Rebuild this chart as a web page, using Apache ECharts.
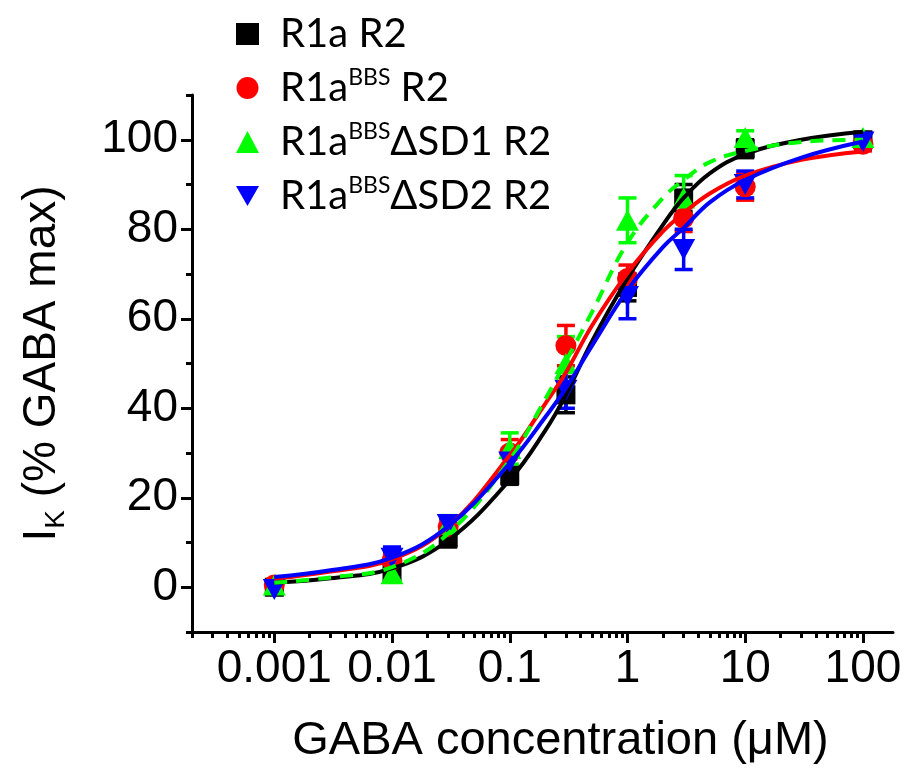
<!DOCTYPE html>
<html>
<head>
<meta charset="utf-8">
<script src="https://cdn.jsdelivr.net/npm/echarts@6/dist/echarts.min.js"></script>
<style>
html,body{margin:0;padding:0;background:#fff;}
#chart{width:911px;height:773px;}
</style>
</head>
<body>
<div id="chart"></div>
<script>
// ---------- data ----------
const seriesNames = ['R1a R2', 'R1aBBS R2', 'R1aBBSΔSD1 R2', 'R1aBBSΔSD2 R2'];
const concentrations = [0.001, 0.01, 0.03, 0.1, 0.3, 1, 3, 10, 100];

const r1aMean   = [0, 3.5, 11, 25, 43, 67, 87, 98, 100];
const r1aErr    = [1, 1.5, 2, 2, 4, 3, 3, 2, 1.5];
const bbsMean   = [0.5, 6, 13.5, 30, 54, 69, 82.5, 89.5, 99];
const bbsErr    = [1, 1.5, 1.5, 3, 4.5, 3, 3, 3, 1.5];
const sd1Mean   = [0.5, 3, 14, 31, 50, 82, 87, 100.5, 100.5];
const sd1Err    = [1, 1.5, 2, 3.5, 6, 5, 5, 1.5, 1];
const sd2Mean   = [-0.5, 6.5, 14, 28, 44, 65, 75.5, 90, 99.5];
const sd2Err    = [1, 2.5, 1.5, 3, 4, 5, 4.5, 3, 1.5];

// fitted curves
const curveX     = [0.001, 0.003, 0.01, 0.03, 0.1, 0.2, 0.3, 0.5, 1, 2, 3, 5, 10, 30, 100];
const r1aCurve   = [1.0, 2.0, 4.2, 10.5, 24, 35, 43, 55, 69, 81, 87, 92.5, 96.8, 100, 101.8];
const bbsCurve   = [1.9, 3.5, 6.2, 13.5, 29.5, 41, 48, 58.5, 70.2, 79.5, 83.6, 88, 92, 95.5, 97.4];
const sd1Curve   = [1.0, 2.2, 4.5, 12, 28.5, 42, 50.5, 61.5, 77, 87, 91, 95, 97.5, 99.5, 100];
const sd2Curve   = [2.3, 3.8, 6.6, 13.6, 27.7, 38, 44.5, 54, 66.4, 76, 80.3, 86, 91, 96, 99.6];

const xTickValues = [0.001, 0.01, 0.1, 1, 10, 100];
const xTickLabels = ['0.001', '0.01', '0.1', '1', '10', '100'];
const yTickValues = [0, 20, 40, 60, 80, 100];
const yMinorTicks = [-10, 10, 30, 50, 70, 90, 110];

// ---------- build ----------
const colors = ['#000000', '#ff0000', '#00ff00', '#0000ff'];
const symbols = ['rect', 'circle', 'triangle', 'path://M0,0L2,0L1,1.732Z'];
const symbolSizes = [19, 21, [23, 21], [23, 21]];
const means = [r1aMean, bbsMean, sd1Mean, sd2Mean];
const errs = [r1aErr, bbsErr, sd1Err, sd2Err];
const curves = [r1aCurve, bbsCurve, sd1Curve, sd2Curve];

const xMinor = [];
for (let d = -4; d <= 2; d++) {
  for (let k = 2; k <= 9; k++) {
    const v = k * Math.pow(10, d);
    if (v >= 0.0002 && v <= 180) xMinor.push(Number(v.toPrecision(3)));
  }
}

const series = [];
for (let i = 0; i < 4; i++) {
  const errData = concentrations.map((c, j) => [c, means[i][j] - errs[i][j], means[i][j] + errs[i][j]]);
  series.push({
    type: 'custom',
    name: seriesNames[i] + '_err',
    xAxisIndex: 0, yAxisIndex: 0,
    z: 3,
    silent: true,
    data: errData,
    encode: { x: 0, y: [1, 2] },
    renderItem: (function (col) {
      return function (params, api) {
        const x = api.value(0);
        const lo = api.coord([x, api.value(1)]);
        const hi = api.coord([x, api.value(2)]);
        const w = 9;
        const st = { stroke: col, lineWidth: 3.5 };
        return {
          type: 'group',
          children: [
            { type: 'line', shape: { x1: lo[0], y1: lo[1], x2: hi[0], y2: hi[1] }, style: st },
            { type: 'line', shape: { x1: lo[0] - w, y1: lo[1], x2: lo[0] + w, y2: lo[1] }, style: st },
            { type: 'line', shape: { x1: hi[0] - w, y1: hi[1], x2: hi[0] + w, y2: hi[1] }, style: st }
          ]
        };
      };
    })(colors[i])
  });
  series.push({
    type: 'scatter',
    name: seriesNames[i],
    xAxisIndex: 0, yAxisIndex: 0,
    z: 4,
    symbol: symbols[i],
    symbolSize: symbolSizes[i],
    itemStyle: { color: colors[i], opacity: 1 },
    data: concentrations.map((c, j) => [c, means[i][j]])
  });
}
for (let i = 0; i < 4; i++) {
  series.push({
    type: 'line',
    name: seriesNames[i] + '_fit',
    xAxisIndex: 0, yAxisIndex: 0,
    z: 5,
    smooth: 0.4,
    showSymbol: false,
    silent: true,
    lineStyle: { color: colors[i], width: 4, type: i === 2 ? [13, 9] : 'solid' },
    data: curveX.map((c, j) => [c, curves[i][j]])
  });
}

const axisFont = 'Liberation Sans, Arial, sans-serif';
const chart = echarts.init(document.getElementById('chart'), null, { renderer: 'canvas' });
chart.setOption({
  animation: false,
  backgroundColor: '#ffffff',
  grid: { left: 192, right: 18, top: 95, bottom: 141, containLabel: false, outerBoundsMode: 'none' },
  legend: {
    data: seriesNames,
    orient: 'vertical',
    left: 231, top: 7,
    itemWidth: 23, itemHeight: 22,
    itemGap: 10,
    textStyle: {
      fontFamily: 'Lato, sans-serif', fontSize: 40, color: '#000', lineHeight: 44,
      padding: [0, 0, 0, 16],
      rich: {
        s: { fontFamily: 'Lato, sans-serif', fontSize: 23, color: '#000', verticalAlign: 'top', lineHeight: 30 }
      }
    },
    formatter: function (name) { return name.replace('BBS', '{s|BBS}'); }
  },
  xAxis: [
    {
      type: 'log', logBase: 10, min: 0.0002, max: 180,
      position: 'bottom',
      axisLine: { show: true, onZero: false, lineStyle: { color: '#000', width: 3 } },
      axisTick: { show: true, customValues: xTickValues, length: 11, lineStyle: { color: '#000', width: 3 } },
      axisLabel: {
        show: true, customValues: xTickValues, margin: 14,
        fontFamily: axisFont, fontSize: 46, color: '#000',
        formatter: function (v) {
          let best = 0;
          for (let k = 0; k < xTickValues.length; k++) {
            if (Math.abs(Math.log10(v) - Math.log10(xTickValues[k])) < Math.abs(Math.log10(v) - Math.log10(xTickValues[best]))) best = k;
          }
          return xTickLabels[best];
        }
      },
      splitLine: { show: false },
      minorTick: { show: false },
      name: 'GABA concentration (μM)',
      nameLocation: 'middle', nameGap: 86,
      nameTextStyle: { fontFamily: axisFont, fontSize: 47, color: '#000', padding: [0, 0, 0, 36] }
    },
    {
      type: 'log', logBase: 10, min: 0.0002, max: 180,
      position: 'bottom',
      axisLine: { show: false, onZero: false },
      axisTick: { show: true, customValues: xMinor, length: 6, lineStyle: { color: '#000', width: 3 } },
      axisLabel: { show: false },
      splitLine: { show: false }
    }
  ],
  yAxis: [
    {
      type: 'value', min: -10, max: 110, position: 'left',
      axisLine: { show: true, onZero: false, lineStyle: { color: '#000', width: 3 } },
      axisTick: { show: true, customValues: yTickValues, length: 11, lineStyle: { color: '#000', width: 3 } },
      axisLabel: { show: true, customValues: yTickValues, margin: 14, fontFamily: axisFont, fontSize: 46, color: '#000' },
      splitLine: { show: false },
      name: '{i|I}{k|K}{i| (% GABA max)}',
      nameLocation: 'middle', nameGap: 122, nameRotate: 90,
      nameTextStyle: {
        fontFamily: axisFont, fontSize: 46, color: '#000',
        rich: {
          i: { fontFamily: axisFont, fontSize: 46, color: '#000', lineHeight: 56, verticalAlign: 'middle' },
          k: { fontFamily: axisFont, fontSize: 28, color: '#000', lineHeight: 56, verticalAlign: 'bottom' }
        }
      }
    },
    {
      type: 'value', min: -10, max: 110, position: 'left', offset: 0,
      axisLine: { show: false, onZero: false },
      axisTick: { show: true, customValues: yMinorTicks, length: 6, lineStyle: { color: '#000', width: 3 } },
      axisLabel: { show: false },
      splitLine: { show: false }
    }
  ],
  series: series
});
</script>
</body>
</html>
